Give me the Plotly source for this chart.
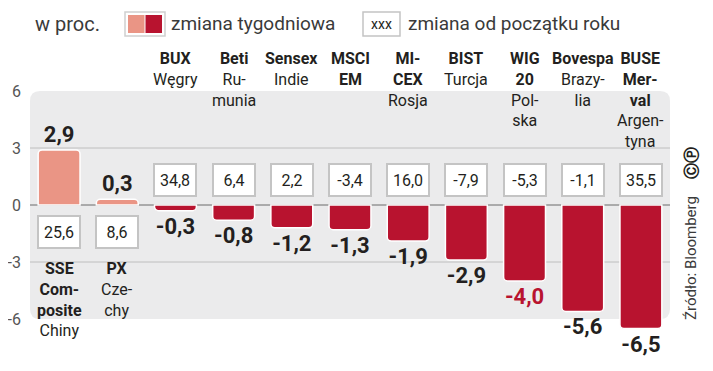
import plotly.graph_objects as go

# ---------------- data ----------------
indices = ["SSE Composite", "PX", "BUX", "Beti", "Sensex", "MSCI EM",
           "MICEX", "BIST", "WIG 20", "Bovespa", "BUSE Merval"]
labels = [
    "<b>SSE</b><br><b>Com-</b><br><b>posite</b><br>Chiny",
    "<b>PX</b><br>Cze-<br>chy",
    "<b>BUX</b><br>Węgry",
    "<b>Beti</b><br>Ru-<br>munia",
    "<b>Sensex</b><br>Indie",
    "<b>MSCI</b><br><b>EM</b>",
    "<b>MI-</b><br><b>CEX</b><br>Rosja",
    "<b>BIST</b><br>Turcja",
    "<b>WIG</b><br><b>20</b><br>Pol-<br>ska",
    "<b>Bovespa</b><br>Brazy-<br>lia",
    "<b>BUSE</b><br><b>Mer-</b><br><b>val</b><br>Argen-<br>tyna",
]
weekly = [2.9, 0.3, -0.3, -0.8, -1.2, -1.3, -1.9, -2.9, -4.0, -5.6, -6.5]
ytd = [25.6, 8.6, 34.8, 6.4, 2.2, -3.4, 16.0, -7.9, -5.3, -1.1, 35.5]
highlight = "WIG 20"
tick_vals = [6, 3, 0, -3, -6]
tick_text = ["6", "3", "0", "-3", "-6"]

# ---------------- style ----------------
OFF = 8                      # page body margin offset
W, H = 713 - OFF, 371 - OFF
PLOT_L, PLOT_R, PLOT_T, PLOT_B = 30, 670, 40, 360   # target page pixels
ML, MT = PLOT_L - OFF, PLOT_T - OFF
MR = W - (PLOT_R - OFF)
MB = H - (PLOT_B - OFF)
PW, PH = PLOT_R - PLOT_L, PLOT_B - PLOT_T
PX_PER_UNIT = 19.0
ZERO_PX = 205.0
y_top = (ZERO_PX - PLOT_T) / PX_PER_UNIT
y_bot = (ZERO_PX - PLOT_B) / PX_PER_UNIT

SALMON = "#EA9585"
RED = "#B8132F"
GRAY_BG = "#EBEBEC"
TXT = "#231F20"
COND = "Roboto, sans-serif"
LIGHT = "Roboto, Open Sans, sans-serif"


def fx(px):
    return (px - PLOT_L) / PW


def fy(py):
    return (PLOT_B - py) / PH


def fmt(v):
    return f"{v:.1f}".replace(".", ",")


n = len(indices)
xs = list(range(n))
colors = [SALMON if v > 0 else RED for v in weekly]
txtcol = [RED if c == highlight else TXT for c in indices]

fig = go.Figure()
fig.add_trace(go.Bar(
    x=xs, y=weekly,
    marker=dict(color=colors, line=dict(color="white", width=1.5), cornerradius=4),
    text=[fmt(v) for v in weekly],
    textposition="outside",
    outsidetextfont=dict(family=COND, size=22, color=txtcol, weight="bold"),
    constraintext="none",
    cliponaxis=False,
    hoverinfo="skip",
))

shapes = []
r = 10
rx, ry = r / PW, r / PX_PER_UNIT
x0, x1, yb, yt = 0, 1, -6, 6
path = (f"M {x0+rx},{yt} L {x1-rx},{yt} Q {x1},{yt} {x1},{yt-ry} "
        f"L {x1},{yb+ry} Q {x1},{yb} {x1-rx},{yb} L {x0+rx},{yb} "
        f"Q {x0},{yb} {x0},{yb+ry} L {x0},{yt-ry} Q {x0},{yt} {x0+rx},{yt} Z")
shapes.append(dict(type="path", path=path, xref="paper", yref="y",
                   fillcolor=GRAY_BG, line=dict(width=0), layer="below"))
for gv in (3, -3):
    shapes.append(dict(type="line", xref="paper", yref="y", x0=0, x1=1, y0=gv, y1=gv,
                       line=dict(color="#BEBEBE", width=1), layer="below"))
shapes.append(dict(type="line", xref="paper", yref="y", x0=0, x1=1, y0=0, y1=0,
                   line=dict(color="#6A6A6A", width=1), layer="below"))

# legend swatches
shapes.append(dict(type="rect", xref="paper", yref="paper",
                   x0=fx(125), x1=fx(165), y0=fy(36), y1=fy(12),
                   fillcolor="white", line=dict(color="#D0D0D0", width=1.5)))
shapes.append(dict(type="rect", xref="paper", yref="paper",
                   x0=fx(128), x1=fx(144.5), y0=fy(33), y1=fy(15),
                   fillcolor=SALMON, line=dict(width=0)))
shapes.append(dict(type="rect", xref="paper", yref="paper",
                   x0=fx(145.5), x1=fx(162), y0=fy(33), y1=fy(15),
                   fillcolor=RED, line=dict(width=0)))
shapes.append(dict(type="rect", xref="paper", yref="paper",
                   x0=fx(363), x1=fx(400), y0=fy(36), y1=fy(12),
                   fillcolor="white", line=dict(color="#C4C4C4", width=1.5)))

ann = []
for i, lab in enumerate(labels):
    top_px = 47 if weekly[i] < 0 else 257
    ann.append(dict(x=i, xref="x", y=fy(top_px), yref="paper", text=lab,
                    showarrow=False, yanchor="top", xanchor="center", align="center",
                    font=dict(family=COND, size=16, color=TXT)))
for i, v in enumerate(ytd):
    ys = 25 if weekly[i] < 0 else -27
    ann.append(dict(x=i, xref="x", y=0, yref="y", yshift=ys, text=fmt(v),
                    showarrow=False, xanchor="center", yanchor="middle",
                    width=38, height=28, borderpad=1,
                    bgcolor="white", bordercolor="#C4C4C4", borderwidth=2,
                    font=dict(family=COND, size=16, color=TXT)))
ann.append(dict(x=fx(33), y=fy(24), xref="paper", yref="paper", text="w proc.",
                showarrow=False, xanchor="left", yanchor="middle",
                font=dict(family=LIGHT, size=20, color="#3A3A3A")))
ann.append(dict(x=fx(169), y=fy(24), xref="paper", yref="paper", text="zmiana tygodniowa",
                showarrow=False, xanchor="left", yanchor="middle",
                font=dict(family=LIGHT, size=19, color="#3A3A3A")))
ann.append(dict(x=fx(381.5), y=fy(24), xref="paper", yref="paper", text="xxx",
                showarrow=False, xanchor="center", yanchor="middle",
                font=dict(family=COND, size=14, color=TXT)))
ann.append(dict(x=fx(406), y=fy(24), xref="paper", yref="paper", text="zmiana od początku roku",
                showarrow=False, xanchor="left", yanchor="middle",
                font=dict(family=LIGHT, size=19, color="#3A3A3A")))
ann.append(dict(x=fx(691), y=fy(322), xref="paper", yref="paper", text="Źródło: Bloomberg",
                showarrow=False, xanchor="center", yanchor="bottom", textangle=-90,
                font=dict(family=LIGHT, size=15, color="#3A3A3A")))
ann.append(dict(x=fx(691), y=fy(163), xref="paper", yref="paper", text="<b>ⒸⓅ</b>",
                showarrow=False, xanchor="center", yanchor="middle", textangle=-90,
                font=dict(family="DejaVu Sans, sans-serif", size=16, color=TXT)))

fig.update_layout(
    width=W, height=H,
    margin=dict(l=ML, r=MR, t=MT, b=MB, autoexpand=False),
    paper_bgcolor="white", plot_bgcolor="rgba(0,0,0,0)",
    showlegend=False, bargap=0.28,
    shapes=shapes, annotations=ann,
    xaxis=dict(range=[-0.5, n - 0.5], visible=False, fixedrange=True),
    yaxis=dict(range=[y_bot, y_top], tickvals=tick_vals, ticktext=tick_text,
               showgrid=False, zeroline=False, showline=False, ticks="",
               ticklabelstandoff=8, automargin=False,
               tickfont=dict(family=LIGHT, size=16, color="#555555")),
)
fig.write_html("out.html")
